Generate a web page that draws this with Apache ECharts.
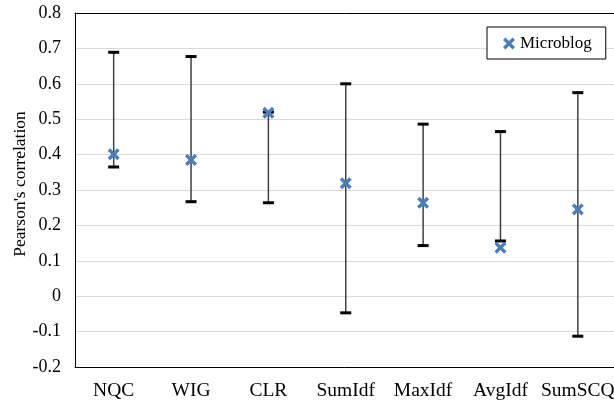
<!DOCTYPE html>
<html>
<head>
<meta charset="utf-8">
<script src="https://cdn.jsdelivr.net/npm/echarts@6/dist/echarts.min.js"></script>
<style>
  html, body { margin: 0; padding: 0; background: #fff; }
  #chart { width: 614px; height: 401px; }
</style>
</head>
<body>
<div id="chart"></div>
<script>
// measures along the x axis
const categories = ['NQC', 'WIG', 'CLR', 'SumIdf', 'MaxIdf', 'AvgIdf', 'SumSCQ']
// Pearson's correlation on the microblog collection
const microblog = [0.401, 0.385, 0.518, 0.319, 0.264, 0.137, 0.245]
// error bar ends
const lowerBound = [0.365, 0.267, 0.264, -0.047, 0.143, 0.156, -0.113]
const upperBound = [0.689, 0.677, 0.520, 0.600, 0.486, 0.465, 0.575]

const font = 'Liberation Serif'
// thick "x" marker like the one Excel draws
const crossIcon = 'path://M2,0 L5,3 L8,0 L10,2 L7,5 L10,8 L8,10 L5,7 L2,10 L0,8 L3,5 L0,2 Z'

const myChart = echarts.init(document.getElementById('chart'))
const option = {
  animation: false,
  backgroundColor: '#fff',
  grid: {
    left: 75,
    top: 13,
    width: 541.5,
    height: 354,
    containLabel: false,
    outerBoundsMode: 'none'
  },
  legend: {
    data: [{ name: 'Microblog', icon: crossIcon }],
    left: 487,
    top: 27,
    orient: 'horizontal',
    backgroundColor: '#fff',
    borderColor: '#000',
    borderWidth: 1,
    borderRadius: 0,
    padding: [8, 14, 7, 16],
    itemWidth: 12,
    itemHeight: 12,
    textStyle: {
      fontFamily: font,
      fontSize: 17,
      color: '#000'
    }
  },
  xAxis: [
    {
      type: 'category',
      data: categories,
      boundaryGap: true,
      axisLine: { show: true, onZero: false, lineStyle: { color: '#000', width: 1 } },
      axisTick: { show: false },
      axisLabel: {
        interval: 0,
        margin: 14,
        fontFamily: font,
        fontSize: 19.5,
        color: '#000'
      },
      splitLine: { show: false }
    },
    {
      // only the top border of the plot box
      type: 'category',
      position: 'top',
      data: categories,
      axisLine: { show: true, onZero: false, lineStyle: { color: '#000', width: 1 } },
      axisTick: { show: false },
      axisLabel: { show: false },
      splitLine: { show: false }
    }
  ],
  yAxis: {
    type: 'value',
    min: -0.2,
    max: 0.8,
    interval: 0.1,
    name: "Pearson's correlation",
    nameLocation: 'middle',
    nameGap: 46,
    nameMoveOverlap: false,
    nameTextStyle: {
      fontFamily: font,
      fontSize: 17.5,
      color: '#000',
      padding: [0, 0, 0, 12]
    },
    axisLine: { show: true, lineStyle: { color: '#000', width: 1 } },
    axisTick: { show: false },
    axisLabel: {
      margin: 14,
      fontFamily: font,
      fontSize: 18,
      color: '#000'
    },
    splitLine: {
      show: true,
      lineStyle: { color: '#d9d9d9', width: 1 }
    }
  },
  series: [
    {
      name: 'range',
      type: 'custom',
      z: 2,
      encode: { x: 0, y: [1, 2] },
      data: categories.map((c, i) => [i, lowerBound[i], upperBound[i]]),
      renderItem: function(params, api) {
        const idx = api.value(0)
        const lo = api.coord([idx, api.value(1)])
        const hi = api.coord([idx, api.value(2)])
        const half = 5.5
        return {
          type: 'group',
          children: [
            {
              type: 'line',
              shape: { x1: lo[0], y1: lo[1], x2: hi[0], y2: hi[1] },
              style: { stroke: '#404040', lineWidth: 1.5 }
            },
            {
              type: 'line',
              shape: { x1: lo[0] - half, y1: lo[1], x2: lo[0] + half, y2: lo[1] },
              style: { stroke: '#000', lineWidth: 3 }
            },
            {
              type: 'line',
              shape: { x1: hi[0] - half, y1: hi[1], x2: hi[0] + half, y2: hi[1] },
              style: { stroke: '#000', lineWidth: 3 }
            }
          ]
        }
      }
    },
    {
      name: 'Microblog',
      type: 'scatter',
      z: 3,
      symbol: crossIcon,
      symbolSize: 12,
      itemStyle: { color: '#4a7ebb', opacity: 1 },
      data: microblog
    }
  ]
}
myChart.setOption(option)
</script>
</body>
</html>
